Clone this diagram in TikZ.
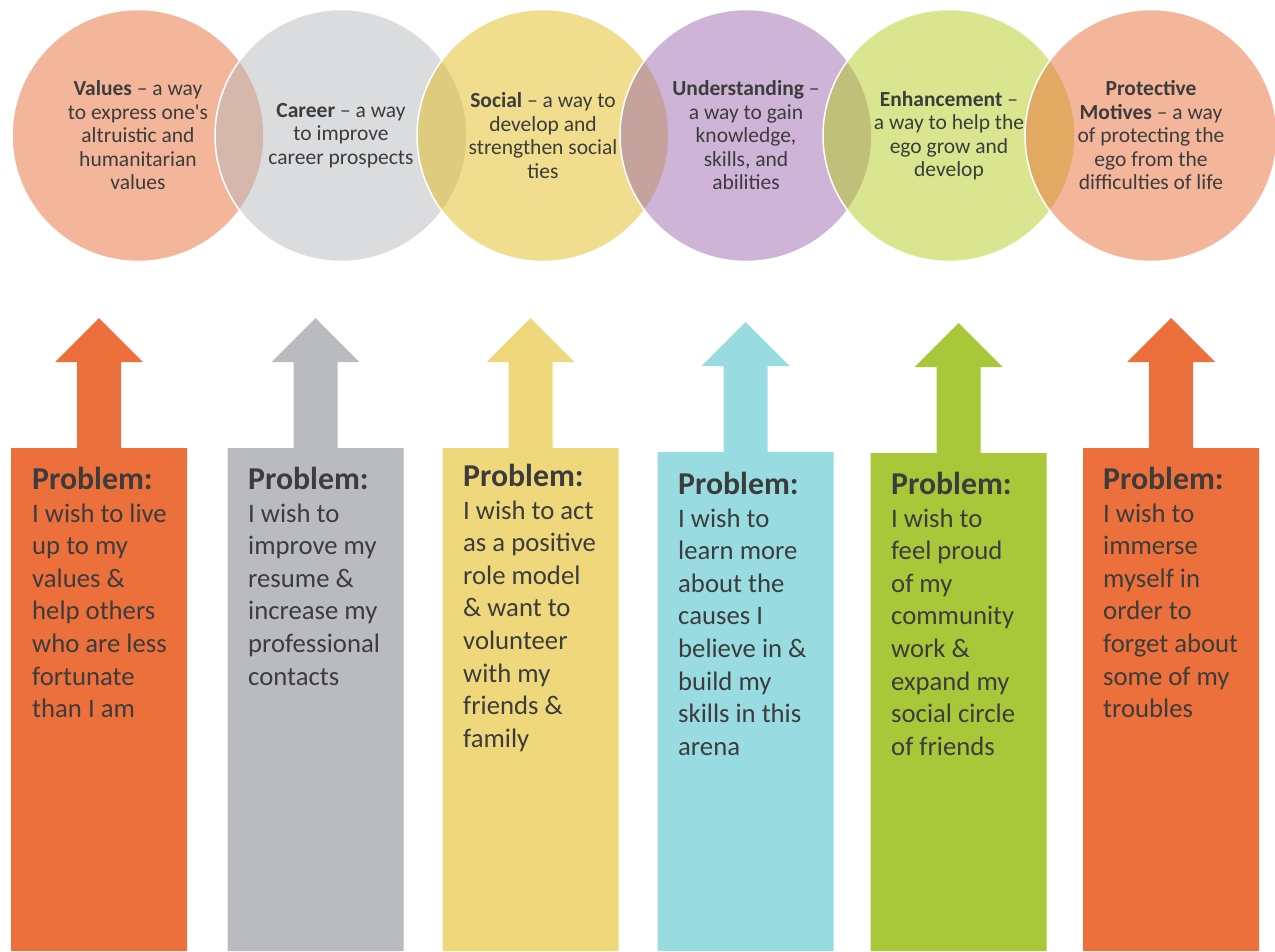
\documentclass[tikz,border=0pt]{standalone}
\usepackage{fontspec}
\setmainfont{Carlito}
\usepackage{tikz}

\definecolor{textgrey}{RGB}{60,60,60}
\definecolor{arroworange}{RGB}{236,112,59}
\definecolor{arrowgrey}{RGB}{186,187,190}
\definecolor{arrowyellow}{RGB}{239,215,123}
\definecolor{arrowcyan}{RGB}{152,220,226}
\definecolor{arrowgreen}{RGB}{168,200,58}
\definecolor{circorange}{RGB}{233,109,55}
\definecolor{circgrey}{RGB}{183,185,189}
\definecolor{circyellow}{RGB}{225,187,29}
\definecolor{circpurple}{RGB}{157,105,173}
\definecolor{circgreen}{RGB}{179,205,31}

\begin{document}
\begin{tikzpicture}[x=1pt,y=-1pt,
  circ/.style={circle,minimum size=252pt,inner sep=0pt,draw=white,line width=1.5pt,fill opacity=0.5,draw opacity=1},
  circtext/.style={align=center,text=textgrey,font=\fontsize{21.5}{23.5}\selectfont},
  probtext/.style={anchor=north west,align=left,inner sep=0pt,text=textgrey,font=\fontsize{26.7}{32.6}\selectfont}]
\useasboundingbox (0,0) rectangle (1275,951);

% the six motives
\node[circ,fill=circorange] (values) at (138,135.5) {};
\node[circ,fill=circgrey] (career) at (341,135.5) {};
\node[circ,fill=circyellow] (social) at (543,135.5) {};
\node[circ,fill=circpurple] (underst) at (746,135.5) {};
\node[circ,fill=circgreen] (enhance) at (949,135.5) {};
\node[circ,fill=circorange] (protect) at (1151,135.5) {};

\node[circtext] (valuestext) at (values) {\textbf{Values} \textendash{} a way\\to express one\textquotesingle s\\altruistic and\\humanitarian\\values};
\node[circtext] (careertext) at (career) {\textbf{Career} \textendash{} a way\\to improve\\career prospects};
\node[circtext] (socialtext) at (social) {\textbf{Social} \textendash{} a way to\\develop and\\strengthen social\\ties};
\node[circtext] (understtext) at (underst) {\textbf{Understanding} \textendash\\a way to gain\\knowledge,\\skills, and\\abilities};
\node[circtext] (enhancetext) at (enhance) {\textbf{Enhancement} \textendash\\a way to help the\\ego grow and\\develop};
\node[circtext] (protecttext) at (protect) {\textbf{Protective}\\\textbf{Motives} \textendash{} a way\\of protecting the\\ego from the\\difficulties of life};

% the arrows with their problems
\fill[arroworange] (11,951) -- (11,448) -- (77,448) -- (77,362) -- (55,362) -- (99,318) -- (143,362) -- (121,362) -- (121,448) -- (187,448) -- (187,951) -- cycle;
\fill[arrowgrey] (227.5,951) -- (227.5,448) -- (293.5,448) -- (293.5,362) -- (271.5,362) -- (315.5,318) -- (359.5,362) -- (337.5,362) -- (337.5,448) -- (403.5,448) -- (403.5,951) -- cycle;
\fill[arrowyellow] (442.5,951) -- (442.5,448) -- (508.5,448) -- (508.5,362) -- (486.5,362) -- (530.5,318) -- (574.5,362) -- (552.5,362) -- (552.5,448) -- (618.5,448) -- (618.5,951) -- cycle;
\fill[arrowcyan] (657.5,951) -- (657.5,452) -- (723.5,452) -- (723.5,366) -- (701.5,366) -- (745.5,322) -- (789.5,366) -- (767.5,366) -- (767.5,452) -- (833.5,452) -- (833.5,951) -- cycle;
\fill[arrowgreen] (870.5,951) -- (870.5,453) -- (936.5,453) -- (936.5,367) -- (914.5,367) -- (958.5,323) -- (1002.5,367) -- (980.5,367) -- (980.5,453) -- (1046.5,453) -- (1046.5,951) -- cycle;
\fill[arroworange] (1083,951) -- (1083,448) -- (1149,448) -- (1149,362) -- (1127,362) -- (1171,318) -- (1215,362) -- (1193,362) -- (1193,448) -- (1259,448) -- (1259,951) -- cycle;

\node[probtext] (prob1) at (32,467) {{\fontsize{31.8}{34}\selectfont\bfseries Problem:}\\I wish to live\\up to my\\values \&\\help others\\who are less\\fortunate\\than I am};
\node[probtext] (prob2) at (248,467) {{\fontsize{31.8}{34}\selectfont\bfseries Problem:}\\I wish to\\improve my\\resume \&\\increase my\\professional\\contacts};
\node[probtext] (prob3) at (463,464) {{\fontsize{31.8}{34}\selectfont\bfseries Problem:}\\I wish to act\\as a positive\\role model\\\& want to\\volunteer\\with my\\friends \&\\family};
\node[probtext] (prob4) at (678,472) {{\fontsize{31.8}{34}\selectfont\bfseries Problem:}\\I wish to\\learn more\\about the\\causes I\\believe in \&\\build my\\skills in this\\arena};
\node[probtext] (prob5) at (891,472) {{\fontsize{31.8}{34}\selectfont\bfseries Problem:}\\I wish to\\feel proud\\of my\\community\\work \&\\expand my\\social circle\\of friends};
\node[probtext] (prob6) at (1103,467) {{\fontsize{31.8}{34}\selectfont\bfseries Problem:}\\I wish to\\immerse\\myself in\\order to\\forget about\\some of my\\troubles};
\end{tikzpicture}
\end{document}
